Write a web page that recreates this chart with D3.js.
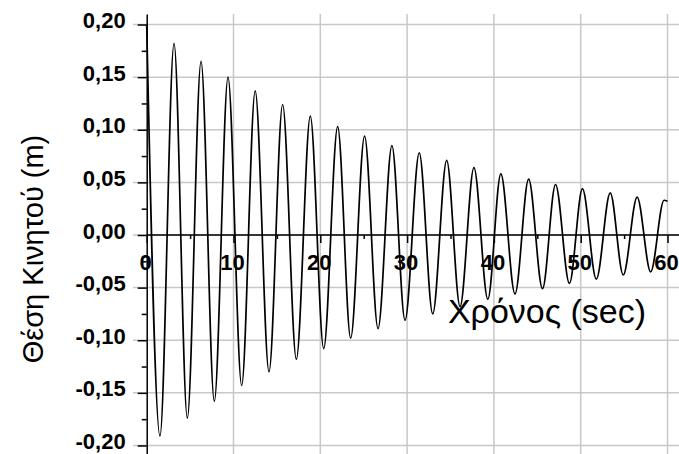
<!DOCTYPE html>
<html>
<head>
<meta charset="utf-8">
<script src="https://cdn.jsdelivr.net/npm/d3@7"></script>
<style>
  body { margin: 0; background: #fff; }
  svg { display: block; }
  text { font-family: "Liberation Sans", Arial, sans-serif; fill: #000; }
  .ylbl { font-weight: bold; font-size: 22px; }
  .xlbl { font-weight: bold; font-size: 22px; }
</style>
</head>
<body>
<svg id="chart" width="679" height="454"></svg>
<script>
// peaks and troughs (time in sec, position in m)
var times = [0, 1.53, 3.15, 4.68, 6.26, 7.79, 9.37, 10.94, 12.5, 14.09,
             15.66, 17.24, 18.85, 20.39, 22.0, 23.5, 25.1, 26.65, 28.25, 29.76,
             31.4, 32.95, 34.56, 36.1, 37.7, 39.3, 40.8, 42.43, 44.0, 45.6,
             47.1, 48.7, 50.2, 51.8, 53.4, 54.9, 56.5, 58.06, 59.6, 60];
var positions = [0.200, -0.191, 0.182, -0.174, 0.165, -0.158, 0.150, -0.143, 0.137, -0.130,
                 0.124, -0.118, 0.113, -0.108, 0.103, -0.098, 0.094, -0.089, 0.085, -0.081,
                 0.078, -0.075, 0.071, -0.068, 0.064, -0.061, 0.058, -0.056, 0.053, -0.051,
                 0.048, -0.046, 0.044, -0.042, 0.040, -0.038, 0.036, -0.035, 0.033, 0.032];

var xTicks = [0, 10, 20, 30, 40, 50, 60];
var xMinor = [5, 15, 25, 35, 45, 55];
var yTicks = [-0.20, -0.15, -0.10, -0.05, 0.00, 0.05, 0.10, 0.15, 0.20];
var yMinor = [-0.175, -0.125, -0.075, -0.025, 0.025, 0.075, 0.125, 0.175];

var xTitle = "Χρόνος (sec)",
    yTitle = "Θέση Κινητού (m)";

var svg = d3.select("#chart"),
    width = 679,
    height = 454;

var x = d3.scaleLinear().domain([0, 60]).range([146.7, 667.5]);
var y = d3.scaleLinear().domain([-0.21, 0.21]).range([456, 14]);

var loc = d3.formatLocale({decimal: ",", thousands: ".", grouping: [3], currency: ["", ""], minus: "-"});
var fmt = loc.format(".2f");

var data = times.map(function(t, i) { return {t: t, v: positions[i]}; });

// grid
var grid = svg.append("g").attr("stroke", "#c8c8c8").attr("stroke-width", 1.5);
grid.selectAll("line.h").data(yTicks).enter().append("line")
    .attr("x1", 133).attr("x2", width)
    .attr("y1", d => y(d)).attr("y2", d => y(d));
grid.selectAll("line.v").data(xTicks.slice(1)).enter().append("line")
    .attr("x1", d => x(d)).attr("x2", d => x(d))
    .attr("y1", y(0.21)).attr("y2", height);

// y axis
var yAxis = g => g
    .attr("transform", `translate(${x(0)},0)`)
    .call(d3.axisLeft(y).tickValues(yTicks).tickFormat(fmt).tickSize(9).tickPadding(12).tickSizeOuter(0))
    .call(g => g.select(".domain").attr("stroke-width", 1.5))
    .call(g => g.selectAll(".tick line").attr("stroke-width", 1.5))
    .call(g => g.selectAll(".tick text").attr("class", "ylbl").attr("y", -4)
      .attr("font-size", null).attr("font-family", null));

svg.append("g").call(yAxis);

svg.append("g")
    .attr("transform", `translate(${x(0)},0)`)
    .call(d3.axisLeft(y).tickValues(yMinor).tickSize(5).tickFormat(""))
    .call(g => g.select(".domain").remove())
    .call(g => g.selectAll(".tick line").attr("stroke-width", 1.5));

// x axis on the zero line
var xAxis = g => g
    .attr("transform", `translate(0,${y(0)})`)
    .call(d3.axisBottom(x).tickValues(xTicks).tickFormat(d3.format("d")).tickSize(8).tickPadding(11).tickSizeOuter(0))
    .call(g => g.select(".domain").attr("d", `M${x(0)},0H${width}`).attr("stroke-width", 1.5))
    .call(g => g.selectAll(".tick line").attr("stroke-width", 1.5))
    .call(g => g.selectAll(".tick text").attr("class", "xlbl").attr("x", -1.5)
      .attr("font-size", null).attr("font-family", null));

svg.append("g").call(xAxis);

svg.append("g")
    .attr("transform", `translate(0,${y(0)})`)
    .call(d3.axisBottom(x).tickValues(xMinor).tickSize(4).tickFormat(""))
    .call(g => g.select(".domain").remove())
    .call(g => g.selectAll(".tick line").attr("stroke-width", 1.5));

// the curve
var line = d3.line()
    .x(d => x(d.t))
    .y(d => y(d.v))
    .curve(d3.curveMonotoneX);

svg.append("path")
    .datum(data)
    .attr("fill", "none")
    .attr("stroke", "#000")
    .attr("stroke-width", 1.7)
    .attr("d", line);

// titles
svg.append("text")
    .attr("x", 547).attr("y", 323)
    .attr("text-anchor", "middle")
    .attr("font-size", 34)
    .text(xTitle);

svg.append("text")
    .attr("transform", "translate(43,249) rotate(-90)")
    .attr("text-anchor", "middle")
    .attr("font-size", 29)
    .text(yTitle);
</script>
</body>
</html>
